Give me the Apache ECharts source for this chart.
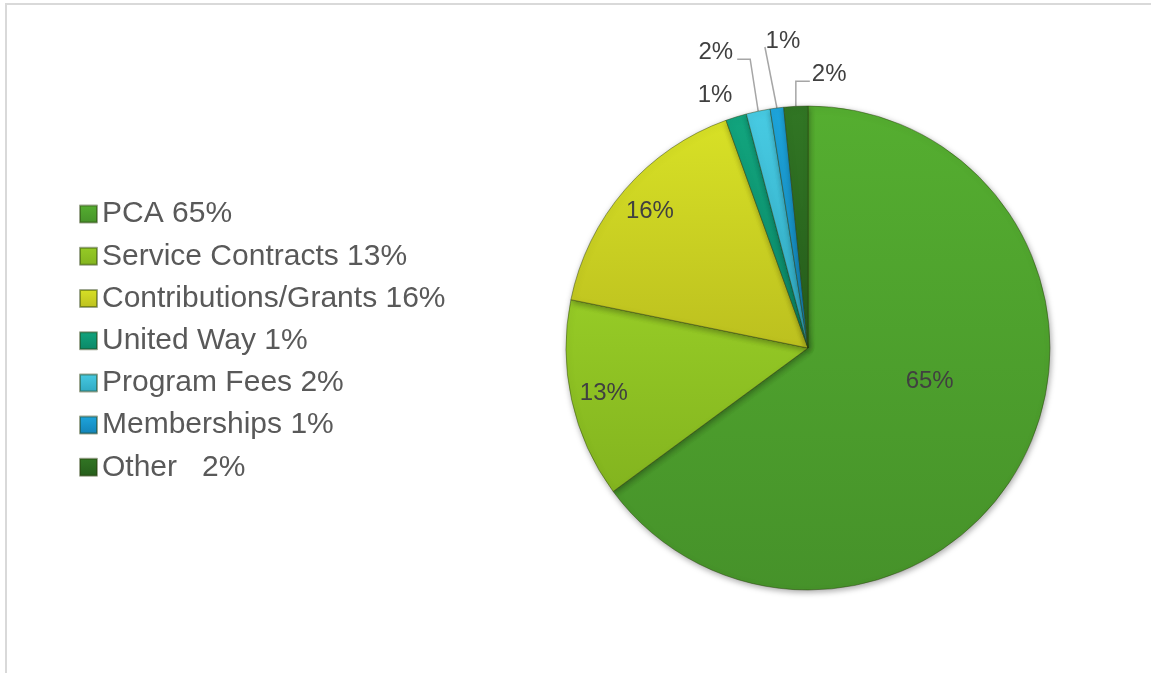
<!DOCTYPE html>
<html>
<head>
<meta charset="utf-8">
<script src="https://cdn.jsdelivr.net/npm/echarts@6/dist/echarts.min.js"></script>
<style>
html,body{margin:0;padding:0;background:#fff;}
#chart{position:absolute;left:0;top:0;width:1151px;height:673px;}
#frame{position:absolute;left:5px;top:3px;right:0;bottom:0;border-top:2px solid #d9d9d9;border-left:2px solid #d9d9d9;pointer-events:none;}
</style>
</head>
<body>
<div id="chart"></div>
<div id="frame"></div>
<script>
// ---- data ----
var categories = ['PCA 65%', 'Service Contracts 13%', 'Contributions/Grants 16%', 'United Way 1%', 'Program Fees 2%', 'Memberships 1%', 'Other   2%'];
var values = [64.9, 13.3, 16.3, 1.4, 1.6, 0.9, 1.6];
var sliceLabels = ['65%', '13%', '16%', '1%', '2%', '1%', '2%'];

// ---- styling ----
var colorTop = ['#55ae30', '#96cb26', '#d8e126', '#12a57e', '#48cbe3', '#1ea6dd', '#317624'];
var colorBot = ['#46922a', '#83b41f', '#bcc01f', '#0b8766', '#2fa8c1', '#1382b6', '#265d1b'];
function grad(i){
  return {type:'linear',x:0,y:0,x2:0,y2:1,colorStops:[{offset:0,color:colorTop[i]},{offset:1,color:colorBot[i]}]};
}
// leader-line layout for the small slices, relative to the slice edge point ECharts computes
var smallCfg = {
  3: {line:false, lx:-21, ly:-22, align:'center'},
  4: {line:true, up:-52, h1x:-8, h2x:-21, align:'right', tx:-4, ty:-7},
  5: {line:true, up:-61, h1x:-12, h2x:-12, align:'center', tx:18, ty:-6},
  6: {line:true, up:-25, h1x:0, h2x:14, align:'left', tx:2, ty:-7}
};

var mainData = values.map(function(v,i){
  var d = {name: categories[i], value: v, itemStyle:{color: grad(i)}};
  if (i === 0) {
    d.label = {show:true, position:'inside'};
  } else if (i === 1 || i === 2) {
    d.label = {show:false};
    d.labelLine = {show:false};
  } else {
    d.label = {show:true, position:'outside'};
    d.labelLine = {show: smallCfg[i].line};
  }
  return d;
});
var ringData = values.map(function(v,i){
  return {name: categories[i], value: v, itemStyle:{color:'rgba(0,0,0,0)'},
          label:{show: (i === 1 || i === 2)}};
});

var chart = echarts.init(document.getElementById('chart'), null, {renderer:'canvas'});
chart.setOption({
  animation:false,
  legend:{
    orient:'vertical', left:74, top:194,
    itemWidth:17, itemHeight:17, itemGap:12,
    icon:'rect',
    textStyle:{fontFamily:'Liberation Sans, Arial, sans-serif', fontSize:30, color:'#595959', lineHeight:30.2},
    data: categories
  },
  series:[{
    type:'pie',
    center:[808,348], radius:[0,242],
    startAngle:90, clockwise:true,
    percentPrecision:0,
    avoidLabelOverlap:false,
    itemStyle:{borderColor:'rgba(40,60,10,0.45)', borderWidth:1, shadowBlur:6, shadowColor:'rgba(0,0,0,0.35)', shadowOffsetX:1, shadowOffsetY:2},
    label:{
      fontFamily:'Liberation Sans, Arial, sans-serif', fontSize:24, color:'#404040',
      formatter:function(p){return sliceLabels[p.dataIndex];}
    },
    labelLine:{length:10, length2:10, lineStyle:{color:'#a6a6a6', width:1.5}},
    labelLayout:function(params){
      var i = params.dataIndex;
      if (i === 0) return {dx:11, dy:-23};
      var c = smallCfg[i];
      if (!c || !params.labelLinePoints) return {};
      var p0 = params.labelLinePoints[0];
      if (!c.line) {
        return {x:p0[0]+c.lx, y:p0[1]+c.ly, align:'center', verticalAlign:'middle'};
      }
      var p1 = [p0[0]+c.h1x, p0[1]+c.up];
      var p2 = [p0[0]+c.h2x, p0[1]+c.up];
      return {x:p2[0]+c.tx, y:p2[1]+c.ty, align:c.align, verticalAlign:'middle',
              labelLinePoints:[p0, p1, p2]};
    },
    emphasis:{disabled:true},
    data: mainData
  },{
    type:'pie',
    center:[808,348], radius:[170,242],
    startAngle:90, clockwise:true,
    silent:true,
    percentPrecision:0,
    itemStyle:{color:'rgba(0,0,0,0)'},
    label:{position:'inside', fontFamily:'Liberation Sans, Arial, sans-serif', fontSize:24, color:'#404040',
      formatter:function(p){return sliceLabels[p.dataIndex];}},
    labelLine:{show:false},
    legendHoverLink:false,
    emphasis:{disabled:true},
    tooltip:{show:false},
    data: ringData
  }]
});
</script>
</body>
</html>
